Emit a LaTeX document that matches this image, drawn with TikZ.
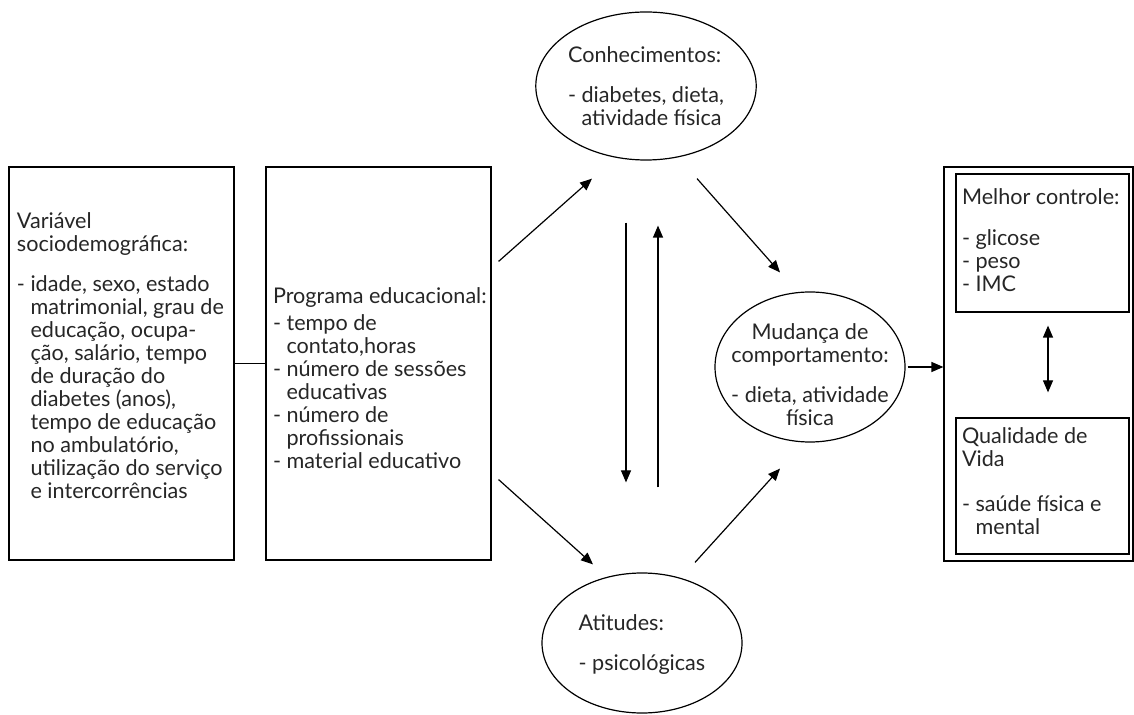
\documentclass[tikz,border=0pt]{standalone}
\usepackage{fontspec}
\setmainfont{Lato}
\usetikzlibrary{arrows.meta, positioning, shapes.geometric, calc}

\begin{document}
\begin{tikzpicture}[x=0.5pt, y=-0.5pt, line width=0.6pt,
  font=\fontsize{10.8}{11.5}\selectfont, text=black!85,
  caixa/.style={draw, rectangle, inner sep=0pt},
  balao/.style={draw, ellipse, inner sep=0pt},
  texto/.style={align=left, inner sep=0pt, anchor=north west},
  seta/.style={-{Triangle[length=6pt,width=5pt]}},
  dupla/.style={{Triangle[length=6pt,width=5pt]}-{Triangle[length=6pt,width=5pt]}}]
  \useasboundingbox (0,0) rectangle (1134,715);
  % caixas da esquerda
  \node[caixa, minimum width=112.5pt, minimum height=196.5pt] (sd) at (121.5,363.5) {};
  \node[caixa, minimum width=112.5pt, minimum height=196.5pt] (prog) at (378.5,363.5) {};
  \node[texto] (sdtxt) at ($(sd.north west)+(8,46)$)
    {Variável\\sociodemográfica:\\[8.5pt]
     - idade, sexo, estado\\
     \phantom{- }matrimonial, grau de\\
     \phantom{- }educação, ocupa-\\
     \phantom{- }ção, salário, tempo\\
     \phantom{- }de duração do\\
     \phantom{- }diabetes (anos),\\
     \phantom{- }tempo de educação\\
     \phantom{- }no ambulatório,\\
     \phantom{- }utilização do serviço\\
     \phantom{- }e intercorrências};
  \node[texto] (progtxt) at ($(prog.north west)+(7,121)$)
    {Programa educacional:\\[2pt]
     - tempo de\\
     \phantom{- }contato,horas\\
     - número de sessões\\
     \phantom{- }educativas\\
     - número de\\
     \phantom{- }profissionais\\
     - material educativo};
  % baloes
  \node[balao, minimum width=97pt, minimum height=74pt, align=left] (conh) at (646,86)
    {Conhecimentos:\\[8.5pt]- diabetes, dieta,\\\phantom{- }atividade física};
  \node[balao, minimum width=95pt, minimum height=75pt] (mud) at (810,367) {};
  \node[align=center, inner sep=0pt] (mudtxt) at ($(mud.center)+(0,8)$)
    {Mudança de\\comportamento:\\[8.5pt]- dieta, atividade\\física};
  \node[balao, minimum width=100pt, minimum height=70pt, align=left] (atit) at (642,643) {};
  \node[texto] (atittxt) at ($(atit.north)+(-64,42)$)
    {Atitudes:\\[8.5pt]- psicológicas};
  % caixas da direita
  \node[caixa, minimum width=94.5pt, minimum height=197pt] (res) at (1038.5,364) {};
  \node[caixa, minimum width=86.5pt, minimum height=69pt] (melhor) at (1042.5,243) {};
  \node[caixa, minimum width=86.5pt, minimum height=68pt] (qual) at (1042.5,486) {};
  \node[texto] (melhortxt) at ($(melhor.north west)+(6,15)$)
    {Melhor controle:\\[9pt]- glicose\\- peso\\- IMC};
  \node[texto] (qualtxt) at ($(qual.north west)+(6,10)$)
    {Qualidade de\\Vida\\[11pt]- saúde física e\\\phantom{- }mental};
  % ligacoes
  \draw (sd.east) -- (prog.west);
  \draw[seta] ($(prog.north east)+(7,95)$) -- ($(conh.south)+(-54,18)$);
  \draw[seta] ($(conh.south)+(51,18)$) -- ($(mud.north)+(-30,-19)$);
  \draw[seta] ($(prog.south east)+(7,-81)$) -- ($(atit.north)+(-49,-8)$);
  \draw[seta] ($(atit.north)+(53,-10)$) -- ($(mud.south)+(-30,26)$);
  \draw[seta] ($(conh.south)+(-20,62)$) -- ($(atit.north)+(-16,-90)$);
  \draw[seta] ($(atit.north)+(16,-85)$) -- ($(conh.south)+(12,65)$);
  \draw[seta] ($(mud.east)+(2,0)$) -- (mud.east -| res.west);
  \draw[dupla] ($(melhor.south)+(5.5,13)$) -- ($(qual.north)+(5.5,-25)$);
\end{tikzpicture}
\end{document}
